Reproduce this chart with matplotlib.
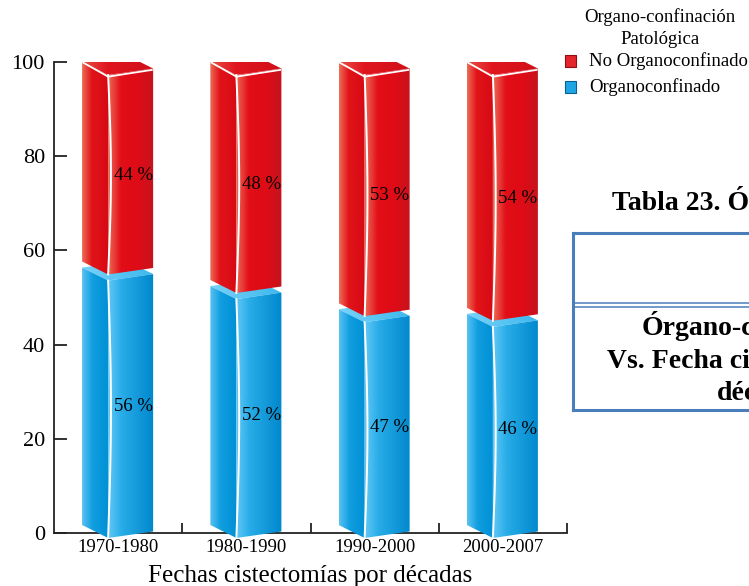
import numpy as np
import matplotlib
matplotlib.use("Agg")
import matplotlib.pyplot as plt
from matplotlib.patches import Polygon, Rectangle
from matplotlib.lines import Line2D

plt.rcParams['font.family'] = ['Liberation Serif', 'DejaVu Serif']

# ---- data -------------------------------------------------------------
periods = ["1970-1980", "1980-1990", "1990-2000", "2000-2007"]
organoconfinado = [56, 52, 47, 46]
no_organoconfinado = [44, 48, 53, 54]
y_ticks = [0, 20, 40, 60, 80, 100]
series_names = ["No Organoconfinado", "Organoconfinado"]
legend_title = ["Organo-confinación", "Patológica"]
x_title = "Fechas cistectomías por décadas"
table_caption = "Tabla 23. Órgano-confinación"
table_cell = ["Órgano-confinación", "Vs. Fecha cistectomías por", "décadas"]

# ---- figure -----------------------------------------------------------
W, H = 749, 586
fig = plt.figure(figsize=(W / 100, H / 100), dpi=100)


def fx(px):
    return px / W


def fy(py):
    return 1 - py / H


YMIN = -4.0          # a little room under the baseline for the prism feet
PX_PER_UNIT = 4.71
ax = fig.add_axes([fx(54), fy(533 - YMIN * PX_PER_UNIT),
                   fx(567) - fx(54), (471 - YMIN * PX_PER_UNIT) / H])
ax.patch.set_visible(False)

# prism cross-section: offsets from the category centre (x in category
# units) and corner drops relative to the left corner (y in value units)
LX, FX, RX = -0.281, -0.078, 0.273
FDY, RDY = -2.76, -1.38
BX, BDY = LX + RX - FX, RDY - FDY
BASE = 1.7
GAP_LOW, GAP_HIGH = 0.4, 0.9

RED = {
    'left': [(0.0, (236, 110, 88)), (0.35, (226, 20, 26)), (1.0, (214, 10, 20))],
    'front': [(0.0, (236, 106, 86)), (0.28, (226, 14, 24)), (0.65, (222, 12, 22)),
              (1.0, (198, 20, 30))],
    'top': [(0.0, (234, 80, 70)), (0.35, (224, 22, 30)), (1.0, (208, 16, 26))],
}
BLUE = {
    'left': [(0.0, (90, 194, 242)), (0.4, (16, 158, 224)), (1.0, (0, 144, 212))],
    'front': [(0.0, (96, 200, 246)), (0.3, (40, 172, 232)), (1.0, (0, 136, 204))],
    'top': [(0.0, (120, 210, 248)), (1.0, (60, 184, 238))],
}


def lift(v):
    return BASE + v * (100 - BASE) / 100


def shade(verts, stops, z):
    """Fill a polygon with a left-to-right colour gradient."""
    clip = Polygon(verts, closed=True, transform=ax.transData)
    xs = [p[0] for p in verts]
    ys = [p[1] for p in verts]
    t = np.linspace(0, 1, 128)
    pos = [p for p, _ in stops]
    rgb = np.array([c for _, c in stops]) / 255
    img = np.stack([np.interp(t, pos, rgb[:, k]) for k in range(3)], axis=-1)[None]
    im = ax.imshow(img, extent=[min(xs), max(xs), min(ys), max(ys)],
                   aspect='auto', interpolation='bilinear', zorder=z)
    im.set_clip_path(clip)


def prism(c, yb, yt, palette, z, highlight):
    L, F, R = c + LX, c + FX, c + RX
    B = c + BX
    shade([(L, yt), (F, yt + FDY), (R, yt + RDY), (B, yt + BDY)], palette['top'], z)
    shade([(L, yb), (F, yb + FDY), (F, yt + FDY), (L, yt)], palette['left'], z)
    shade([(F, yb + FDY), (R, yb + RDY), (R, yt + RDY), (F, yt + FDY)],
          palette['front'], z)
    # curved light seam between left and front face
    t = np.linspace(0, 1, 40)
    ax.add_line(Line2D(F + 0.022 * np.sin(np.pi * t),
                       (yt + FDY) + (yb - yt) * t,
                       color='white', lw=1.4, zorder=z + 0.1, clip_on=False))
    if highlight:
        ax.add_line(Line2D([L + 0.01, F, R - 0.01],
                           [yt - 0.15, yt + FDY - 0.35, yt + RDY - 0.3],
                           color='white', lw=1.3, zorder=z + 0.1,
                           clip_on=False, solid_joinstyle='round'))


for i, (low, high) in enumerate(zip(organoconfinado, no_organoconfinado)):
    prism(i, lift(0), lift(low) - GAP_LOW, BLUE, 3, False)
    prism(i, lift(low) + GAP_HIGH, lift(low + high), RED, 4, True)
    label_x = i + (FX + RX) / 2 + 0.02
    drop = (FDY + RDY) / 2 - 0.3
    ax.text(label_x, lift(low / 2) + drop, f"{low} %", ha='center', va='center',
            fontsize=13.5, color='black', zorder=6)
    ax.text(label_x, lift(low + high / 2) + drop, f"{high} %", ha='center',
            va='center', fontsize=13.5, color='black', zorder=6)

# ---- axes -------------------------------------------------------------
ax.set_xlim(-0.5, 3.5)
ax.set_ylim(YMIN, 100)
for s in ['top', 'right']:
    ax.spines[s].set_visible(False)
for s in ['left', 'bottom']:
    ax.spines[s].set_linewidth(1.3)
    ax.spines[s].set_color('#222222')
ax.spines['bottom'].set_position(('data', 0))
ax.spines['left'].set_bounds(0, 100)
ax.set_yticks(y_ticks)
ax.tick_params(axis='y', direction='in', length=9, width=1.3, color='#222222',
               labelsize=16, pad=6.5)
ax.set_xticks(range(len(periods)), periods)
ax.tick_params(axis='x', which='major', length=0, labelsize=13.5, pad=4)
ax.set_xticks([i + 0.5 for i in range(len(periods))], minor=True)
ax.tick_params(axis='x', which='minor', direction='in', length=7.5, width=1.3,
               color='#222222')
ax.set_xlabel(x_title, fontsize=18, labelpad=7)

# ---- legend -----------------------------------------------------------
fig.text(fx(660), fy(17), legend_title[0], ha='center', va='center', fontsize=13.5)
fig.text(fx(660), fy(40), legend_title[1], ha='center', va='center', fontsize=13.5)
for (name, face, edge, ytop) in [(series_names[0], '#e3262b', '#8c1010', 55),
                                 (series_names[1], '#1ea6e4', '#0b5f92', 81)]:
    fig.add_artist(Rectangle((fx(565), fy(ytop + 12)), fx(11), 12 / H,
                             transform=fig.transFigure, facecolor=face,
                             edgecolor=edge, lw=0.8))
    fig.text(fx(589), fy(ytop + 6.5), name, ha='left', va='center', fontsize=13.5)

# ---- table fragment on the right ---------------------------------------
blue_rule = '#4a7ebb'
fig.text(fx(612), fy(210), table_caption, ha='left', va='baseline',
         fontsize=20, fontweight='bold')
for xs, ys, lw in [([573, 760], [233, 233], 2.2),
                   ([573, 573], [233, 410], 2.2),
                   ([573, 760], [410, 410], 2.2),
                   ([573, 760], [303, 303], 1.1),
                   ([573, 760], [307, 307], 1.1)]:
    fig.add_artist(Line2D([fx(v) for v in xs], [fy(v) for v in ys],
                          transform=fig.transFigure, color=blue_rule, lw=lw))
for (x0, yb), txt in zip([(642, 335), (607, 368), (717, 400)], table_cell):
    fig.text(fx(x0), fy(yb), txt, ha='left', va='baseline', fontsize=20,
             fontweight='bold')

fig.savefig("out.png", dpi=100)
